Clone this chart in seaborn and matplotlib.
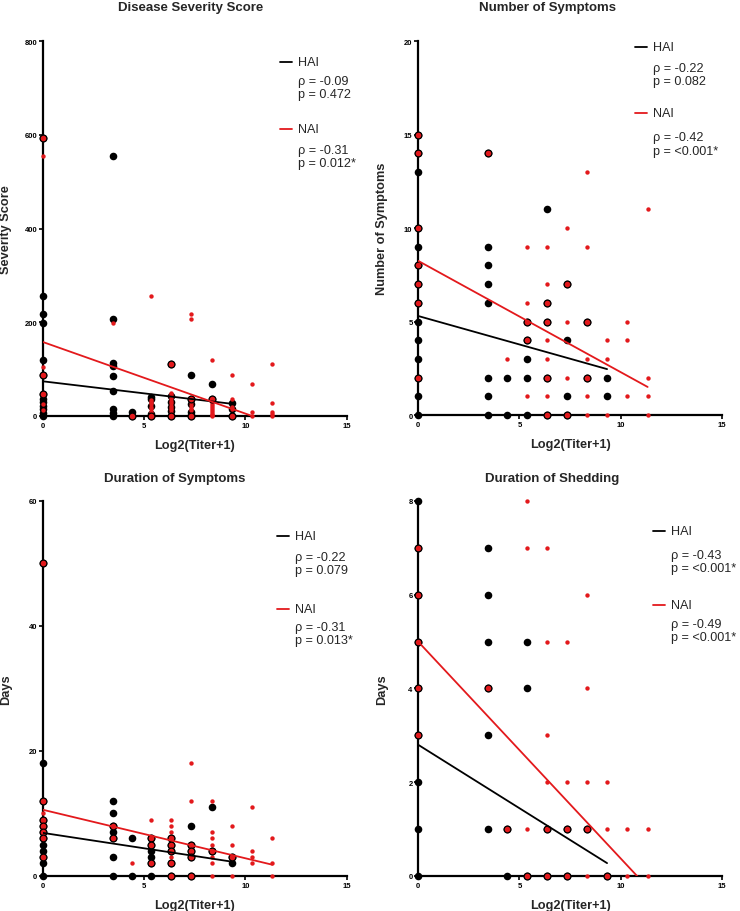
import numpy as np
import pandas as pd
import matplotlib
matplotlib.use("Agg")
import matplotlib.pyplot as plt
import seaborn as sns

# titer levels on the x axis: log2(titer + 1)
titer_x = [0, 3.46, 4.39, 5.36, 6.34, 7.33, 8.33, 9.32, 10.32, 11.32]

# y values per titer level (one inner list for each entry of titer_x)
sev_hai = [[593, 257, 218, 198, 119, 88, 47, 36, 29, 22, 15, 7, 0],
           [555, 207, 113, 106, 86, 54, 14, 7, 0],
           [9, 0],
           [41, 36, 22, 5, 0],
           [110, 42, 30, 20, 10, 0],
           [88, 37, 25, 8, 3, 0],
           [68, 37],
           [28, 15, 0],
           [], []]
sev_nai = [[593, 555, 104, 88, 47, 25, 12],
           [198],
           [0],
           [257, 34, 30, 26, 20, 14, 8, 3, 0],
           [110, 48, 44, 38, 33, 28, 22, 17, 12, 7, 2, 0],
           [217, 206, 37, 30, 24, 18, 12, 5, 0],
           [119, 37, 33, 29, 25, 21, 17, 13, 9, 5, 1, 0],
           [88, 37, 20, 14, 0],
           [68, 9, 0],
           [110, 28, 9, 4, 0]]

sym_hai = [[15, 14, 13, 10, 9, 8, 7, 6, 5, 4, 3, 2, 1, 0],
           [14, 9, 8, 7, 6, 2, 1, 0],
           [2, 0],
           [5, 4, 3, 2, 0],
           [11, 6, 5, 2, 0],
           [7, 4, 1, 0],
           [5, 2],
           [2, 1],
           [], []]
sym_nai = [[15, 14, 10, 8, 7, 6, 2],
           [14],
           [3],
           [9, 6, 5, 4, 1],
           [9, 7, 6, 5, 4, 3, 2, 1, 0],
           [10, 7, 5, 2, 0],
           [13, 9, 5, 3, 2, 1, 0],
           [4, 3, 0],
           [5, 4, 1],
           [11, 2, 1, 0]]

dur_hai = [[50, 18, 12, 9, 8, 7, 6, 5, 4, 3, 2, 0],
           [12, 10, 8, 7, 6, 3, 0],
           [6, 0],
           [6, 5, 4, 3, 2, 0],
           [6, 5, 4, 2, 0],
           [8, 5, 4, 3, 0],
           [11, 4],
           [3, 2],
           [], []]
dur_nai = [[50, 12, 10, 9, 8, 7, 6, 3],
           [8, 6],
           [2],
           [9, 6, 5, 2],
           [9, 8, 7, 6, 5, 4, 3, 2, 0],
           [18, 12, 5, 4, 3, 0],
           [12, 7, 6, 5, 4, 3, 2, 0],
           [8, 5, 3, 0],
           [11, 4, 3, 2],
           [6, 2, 0]]

shed_hai = [[8, 7, 6, 5, 4, 3, 2, 1, 0],
            [7, 6, 5, 4, 3, 1],
            [1, 0],
            [5, 4, 0],
            [1, 0],
            [1, 0],
            [1],
            [0],
            [], []]
shed_nai = [[7, 6, 5, 4, 3],
            [4],
            [1],
            [8, 7, 1, 0],
            [7, 5, 3, 2, 1, 0],
            [5, 2, 1, 0],
            [6, 4, 2, 1, 0],
            [2, 1, 0],
            [1, 0],
            [1, 0]]

# fitted lines: intercept, slope
sev_fit_hai = [74, -5.15]
sev_fit_nai = [158, -15.3]
sym_fit_hai = [5.3, -0.305]
sym_fit_nai = [8.25, -0.596]
dur_fit_hai = [6.9, -0.494]
dur_fit_nai = [10.6, -0.777]
shed_fit_hai = [2.8, -0.271]
shed_fit_nai = [5.0, -0.463]

titles = ["Disease Severity Score", "Number of Symptoms",
          "Duration of Symptoms", "Duration of Shedding"]
ylabels = ["Severity Score", "Number of Symptoms", "Days", "Days"]
y_max = [800, 20, 60, 8]
y_step = [200, 5, 20, 2]
hai_stats = ["ρ = -0.09\np = 0.472", "ρ = -0.22\np = 0.082",
             "ρ = -0.22\np = 0.079", "ρ = -0.43\np = <0.001*"]
nai_stats = ["ρ = -0.31\np = 0.012*", "ρ = -0.42\np = <0.001*",
             "ρ = -0.31\np = 0.013*", "ρ = -0.49\np = <0.001*"]

RED = "#e3191c"

sns.set_style("ticks")
plt.rcParams["font.family"] = ["Liberation Sans", "DejaVu Sans"]


def to_frame(levels):
    rows = [(titer_x[i], y) for i, ys in enumerate(levels) for y in ys]
    return pd.DataFrame(rows, columns=["titer", "value"])


def fit_frame(fit, x_end):
    xs = [0, x_end]
    return pd.DataFrame({"titer": xs, "value": [fit[0] + fit[1] * x for x in xs]})


# layout per panel (axes rect, title pos, legend positions in axes fraction)
rects = [[0.0577, 0.5428, 0.411, 0.411], [0.565, 0.5438, 0.411, 0.410],
         [0.0577, 0.0384, 0.411, 0.4112], [0.565, 0.0384, 0.411, 0.4112]]
title_pos = [(0.487, 1.09), (0.424, 1.09), (0.434, 1.06), (0.44, 1.06)]
leg_x = [0.78, 0.714, 0.77, 0.772]
leg_y = [(0.944, 0.877, 0.765, 0.693), (0.984, 0.910, 0.807, 0.725),
         (0.907, 0.833, 0.712, 0.647), (0.920, 0.839, 0.723, 0.655)]

panels = [(sev_hai, sev_nai, sev_fit_hai, sev_fit_nai),
          (sym_hai, sym_nai, sym_fit_hai, sym_fit_nai),
          (dur_hai, dur_nai, dur_fit_hai, dur_fit_nai),
          (shed_hai, shed_nai, shed_fit_hai, shed_fit_nai)]

fig = plt.figure(figsize=(7.4, 9.12), dpi=100)

for i, (hai_lv, nai_lv, fit_h, fit_n) in enumerate(panels):
    ax = fig.add_axes(rects[i])
    hai = to_frame(hai_lv)
    nai = to_frame(nai_lv)
    both = nai.merge(hai.drop_duplicates(), on=["titer", "value"])
    nai_only = nai.merge(hai.drop_duplicates(), on=["titer", "value"],
                         how="left", indicator=True)
    nai_only = nai_only[nai_only["_merge"] == "left_only"]

    # HAI: large black dots, NAI: small red dots, shared points red with black ring
    sns.scatterplot(data=hai, x="titer", y="value", color="black", s=30,
                    linewidth=0, ax=ax, clip_on=False, zorder=3)
    sns.scatterplot(data=nai_only, x="titer", y="value", color=RED, s=10,
                    linewidth=0, ax=ax, clip_on=False, zorder=4)
    sns.scatterplot(data=both, x="titer", y="value", color=RED, s=24,
                    edgecolor="black", linewidth=0.9, ax=ax, clip_on=False, zorder=5)

    sns.lineplot(data=fit_frame(fit_h, max(hai["titer"])), x="titer", y="value",
                 color="black", lw=1.3, ax=ax, zorder=6)
    sns.lineplot(data=fit_frame(fit_n, max(nai["titer"])), x="titer", y="value",
                 color=RED, lw=1.3, ax=ax, zorder=6)

    ax.set_xlim(0, 15)
    ax.set_ylim(0, y_max[i])
    ax.set_xticks([0, 5, 10, 15])
    ax.set_yticks(np.arange(0, y_max[i] + 1, y_step[i]))
    sns.despine(ax=ax)
    for side in ["left", "bottom"]:
        ax.spines[side].set_linewidth(1.6)
        ax.spines[side].set_color("black")
    ax.tick_params(length=3, width=1.2, labelsize=5.5, pad=1, colors="black")
    for lab in ax.get_xticklabels() + ax.get_yticklabels():
        lab.set_fontweight("bold")

    ax.set_xlabel("Log2(Titer+1)", fontsize=9.2, fontweight="bold")
    ax.set_ylabel(ylabels[i], fontsize=9.2, fontweight="bold")
    ax.xaxis.set_label_coords(0.5, -0.062)
    ax.yaxis.set_label_coords(-0.10, 0.5)
    ax.text(title_pos[i][0], title_pos[i][1], titles[i], transform=ax.transAxes,
            ha="center", va="center", fontsize=9.5, fontweight="bold")

    # legend block
    lx = leg_x[i]
    ly = leg_y[i]
    ax.plot([lx, lx + 0.04], [ly[0], ly[0]], color="black", lw=1.3,
            transform=ax.transAxes, clip_on=False)
    ax.plot([lx, lx + 0.04], [ly[2], ly[2]], color=RED, lw=1.3,
            transform=ax.transAxes, clip_on=False)
    fs = 9.1
    ax.text(lx + 0.058, ly[0], "HAI", transform=ax.transAxes, va="center", fontsize=fs)
    ax.text(lx + 0.058, ly[2], "NAI", transform=ax.transAxes, va="center", fontsize=fs)
    ax.text(lx + 0.058, ly[1], hai_stats[i], transform=ax.transAxes, va="center",
            fontsize=fs, linespacing=1.15)
    ax.text(lx + 0.058, ly[3], nai_stats[i], transform=ax.transAxes, va="center",
            fontsize=fs, linespacing=1.15)

fig.savefig("out.png", dpi=100)
